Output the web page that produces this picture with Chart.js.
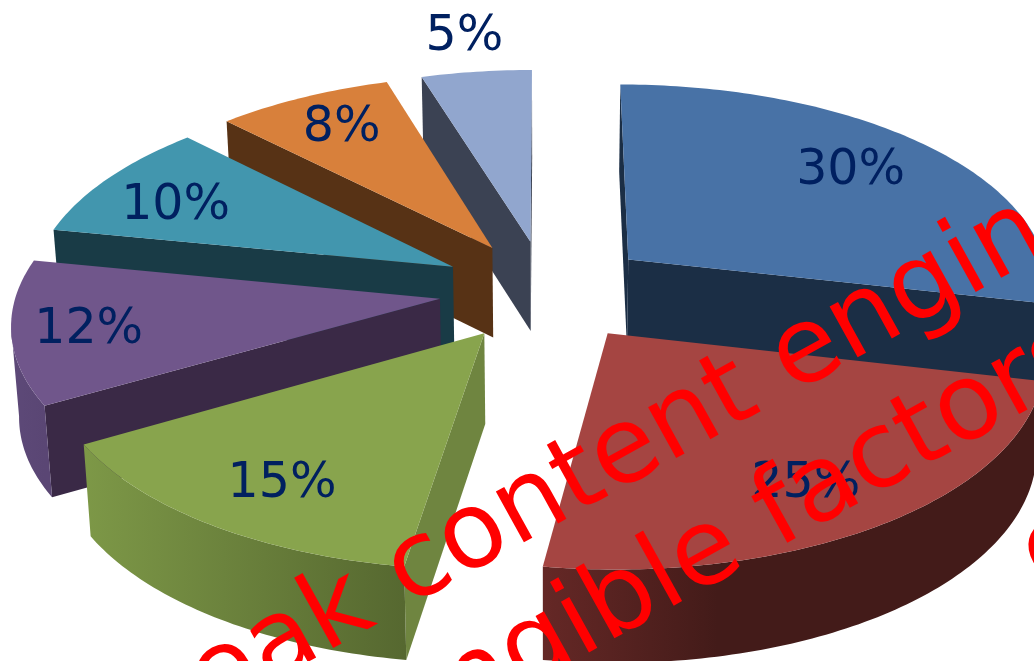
<!DOCTYPE html>
<html>
<head>
<meta charset="utf-8">
<title>Pie</title>
<script src="https://cdn.jsdelivr.net/npm/chart.js@4"></script>
<style>
    html, body { margin: 0; padding: 0; background: #fff; overflow: hidden; }
    #wrap { width: 1034px; height: 661px; }
</style>
</head>
<body>
<div id="wrap"><canvas id="pie"></canvas></div>
<script>
// データ
const categories = ['A', 'B', 'C', 'D', 'E', 'F', 'G'];
const shares = [30, 25, 15, 12, 10, 8, 5];

// 配色
const topColors = ['#4872a6', '#a54542', '#88a44d', '#70568b', '#4296ae', '#d8803b', '#91a6ce'];
const cutColors = ['#1b2e45', '#451c1a', '#6f8540', '#3a2946', '#193b46', '#573215', '#3b4253'];
const rimFromColors = ['#1b2e45', '#431b19', '#566830', '#5a4674', '#193b46', '#573215', '#3b4253'];
const rimToColors = ['#1b2e45', '#652826', '#7d9847', '#5d4978', '#193b46', '#573215', '#3b4253'];
const rimHold = [0, 0.65, 0, 0, 0, 0, 0];

// ラベル位置（半径比と角度の補正）
const labelRadius = [0.76, 0.773, 0.779, 0.822, 0.775, 0.796, 1.25];
const labelTurn = [-2.4, 1.9, -1.4, -0.2, -2.3, 0.6, 0];

// 透視の設定
const squash = 0.4737;
const viewDist = 3885;
const depth = 90;
const floorShrink = 0.985;

function project(cx, cy, u, v, drop) {
    const k = viewDist / (viewDist - v);
    const shrink = drop ? floorShrink : 1;
    return {
        x: cx + u * k * shrink,
        y: cy + v * squash * k + drop * (1 + (k - 1) * 0.25)
    };
}

// 扇形の輪郭を地面座標で作る
function outline(arc) {
    const off = arc.options.offset;
    const mid = (arc.startAngle + arc.endAngle) / 2;
    const ox = Math.cos(mid) * off, oy = Math.sin(mid) * off;
    const pts = [{ u: ox, v: oy }];
    const steps = Math.max(12, Math.ceil((arc.endAngle - arc.startAngle) * 60));
    for (let i = 0; i <= steps; i++) {
        const a = arc.startAngle + (arc.endAngle - arc.startAngle) * i / steps;
        pts.push({
            u: ox + Math.cos(a) * arc.outerRadius,
            v: oy + Math.sin(a) * arc.outerRadius
        });
    }
    return pts;
}

function fillPolygon(ctx, pts, fill) {
    ctx.beginPath();
    pts.forEach((p, i) => (i ? ctx.lineTo(p.x, p.y) : ctx.moveTo(p.x, p.y)));
    ctx.closePath();
    ctx.fillStyle = fill;
    ctx.fill();
}

function drawSlice(ctx, arc, index) {
    const cx = arc.x, cy = arc.y;
    const pts = outline(arc);
    const top = pts.map(p => project(cx, cy, p.u, p.v, 0));
    const low = pts.map(p => project(cx, cy, p.u, p.v, depth));
    const last = pts.length - 1;

    // 切り口の側面（手前向きのときだけ）
    if (top[1].x < top[0].x) {
        fillPolygon(ctx, [top[0], top[1], low[1], low[0]], cutColors[index]);
    }
    if (top[0].x < top[last].x) {
        fillPolygon(ctx, [top[last], top[0], low[0], low[last]], cutColors[index]);
    }

    // 外周の側面
    const run = [];
    for (let i = 1; i < last; i++) {
        if (top[i + 1].x < top[i].x) {
            if (!run.length) run.push(i);
            run.push(i + 1);
        }
    }
    if (run.length) {
        const upper = run.map(i => top[i]);
        const lower = run.map(i => low[i]).reverse();
        const grad = ctx.createLinearGradient(upper[0].x, 0, upper[upper.length - 1].x, 0);
        grad.addColorStop(0, rimFromColors[index]);
        grad.addColorStop(rimHold[index], rimFromColors[index]);
        grad.addColorStop(1, rimToColors[index]);
        fillPolygon(ctx, upper.concat(lower), grad);
    }

    fillPolygon(ctx, top, arc.options.backgroundColor);
}

function drawLabel(ctx, arc, index) {
    const off = arc.options.offset;
    const mid = (arc.startAngle + arc.endAngle) / 2;
    const a = mid + labelTurn[index] * Math.PI / 180;
    const r = arc.outerRadius * labelRadius[index];
    const p = project(arc.x, arc.y,
        Math.cos(mid) * off + Math.cos(a) * r,
        Math.sin(mid) * off + Math.sin(a) * r, 0);
    ctx.fillStyle = '#002060';
    ctx.font = '49px "DejaVu Sans"';
    ctx.textAlign = 'center';
    ctx.textBaseline = 'alphabetic';
    ctx.fillText(shares[index] + '%', p.x, p.y + 16);
}

function drawStamp(ctx) {
    ctx.save();
    ctx.fillStyle = '#ff0000';
    ctx.font = '106px "DejaVu Sans"';
    ctx.textAlign = 'left';
    ctx.textBaseline = 'alphabetic';
    const lines = [['weak content engine', 135, 758], ['intangible factors', 285, 821], ['e', 1042, 590]];
    lines.forEach(([text, x, y]) => {
        ctx.save();
        ctx.translate(x, y);
        ctx.rotate(-29 * Math.PI / 180);
        ctx.fillText(text, 0, 0);
        ctx.restore();
    });
    ctx.restore();
}

// 立体の円グラフを描くプラグイン
const pie3d = {
    id: 'pie3d',
    beforeDatasetsDraw(chart) {
        const arcs = chart.getDatasetMeta(0).data;
        const order = arcs.map((arc, i) => i).sort((a, b) =>
            Math.sin((arcs[a].startAngle + arcs[a].endAngle) / 2) -
            Math.sin((arcs[b].startAngle + arcs[b].endAngle) / 2));
        const ctx = chart.ctx;
        ctx.save();
        order.forEach(i => drawSlice(ctx, arcs[i], i));
        arcs.forEach((arc, i) => drawLabel(ctx, arc, i));
        drawStamp(ctx);
        ctx.restore();
        return false;
    }
};

new Chart(document.getElementById('pie'), {
    type: 'pie',
    data: {
        labels: categories,
        datasets: [{
            data: shares,
            backgroundColor: topColors,
            borderWidth: 0,
            offset: 107
        }]
    },
    options: {
        responsive: true,
        maintainAspectRatio: false,
        animation: false,
        radius: 423,
        layout: { padding: { left: 58, bottom: 80 } },
        plugins: {
            legend: { display: false },
            tooltip: { enabled: false }
        }
    },
    plugins: [pie3d]
});
</script>
</body>
</html>
